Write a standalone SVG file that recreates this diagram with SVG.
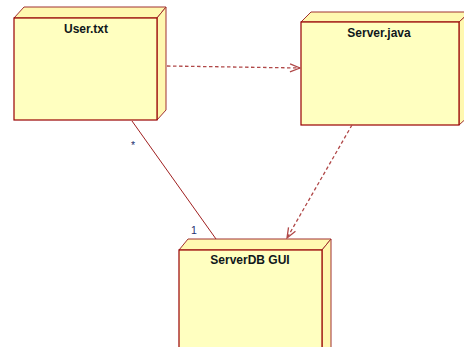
<svg xmlns="http://www.w3.org/2000/svg" width="464" height="347" viewBox="0 0 464 347">
  <style>
    .face { fill: #ffffc0; stroke: #990000; stroke-width: 1.2; stroke-linejoin: miter; }
    .side { fill: #fff8b0; stroke: #a03030; stroke-width: 1; }
    .title { font-family: "Liberation Sans", Arial, sans-serif; font-size: 12px; font-weight: bold; fill: #10181c; text-anchor: middle; }
    .mult { font-family: "Liberation Sans", Arial, sans-serif; font-size: 10.5px; fill: #1f3070; }
    .assoc { stroke: #a02020; stroke-width: 1; fill: none; }
    .dep { stroke: #b04848; stroke-width: 1.3; fill: none; stroke-dasharray: 3.5 2.5; }
  </style>
  <defs>
    <marker id="open" viewBox="0 0 12 10" refX="11" refY="5" markerWidth="12" markerHeight="10" markerUnits="userSpaceOnUse" orient="auto">
      <path d="M1 1 L11 5 L1 9" fill="none" stroke="#b04848" stroke-width="1.3"/>
    </marker>
  </defs>
  <rect width="464" height="347" fill="#ffffff"/>

  <g id="user-txt">
    <polygon class="side" points="14,18 24,7 166,7 157,18"/>
    <polygon class="side" points="157,18 166,7 166,110 157,120"/>
    <rect class="face" x="14" y="18" width="143" height="102"/>
    <text class="title" x="86" y="33">User.txt</text>
  </g>

  <g id="server-java">
    <polygon class="side" points="301,22 311,12 470,12 459,22"/>
    <polygon class="side" points="459,22 470,12 470,115 459,125"/>
    <rect class="face" x="301" y="22" width="158" height="103"/>
    <text class="title" x="379" y="37">Server.java</text>
  </g>

  <g id="serverdb-gui">
    <polygon class="side" points="179,250 188,239 331,239 322,250"/>
    <polygon class="side" points="322,250 331,239 331,350 322,350"/>
    <rect class="face" x="179" y="250" width="143" height="105"/>
    <text class="title" x="250" y="264">ServerDB GUI</text>
  </g>

  <g id="connectors">
    <line class="assoc" x1="132" y1="121" x2="216" y2="239"/>
    <text class="mult" x="131" y="149">*</text>
    <text class="mult" x="191" y="234">1</text>
    <path class="dep" d="M167 66 L300 68" marker-end="url(#open)"/>
    <path class="dep" d="M352 125 L287 238" marker-end="url(#open)"/>
  </g>
</svg>
